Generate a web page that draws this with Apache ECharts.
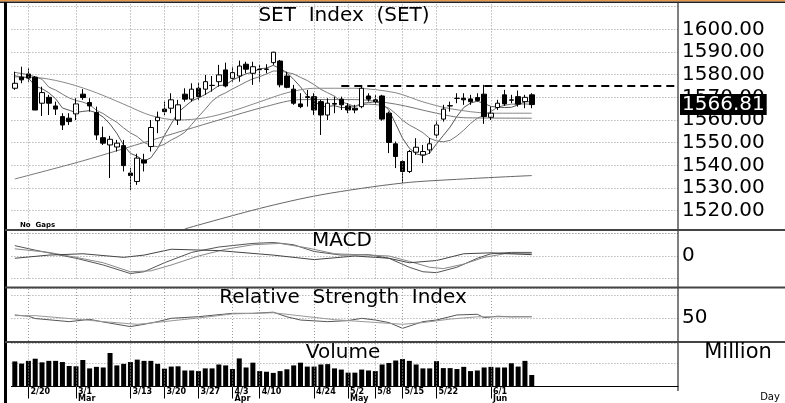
<!DOCTYPE html>
<html>
<head>
<meta charset="utf-8">
<script src="https://cdn.jsdelivr.net/npm/echarts@6/dist/echarts.min.js"></script>
<style>
  html, body { margin: 0; padding: 0; background: #fff; }
  #chart { width: 785px; height: 403px; }
</style>
</head>
<body>
<div id="chart"></div>
<script>
// trading days shown (Feb 16 - Jun 9)
const dates = [
  '2/16','2/17','2/20','2/21','2/22','2/23','2/24','2/27','2/28',
  '3/1','3/2','3/3','3/6','3/7','3/8','3/9','3/10','3/13','3/14','3/15','3/16','3/17',
  '3/20','3/21','3/22','3/23','3/24','3/27','3/28','3/29','3/30','3/31',
  '4/3','4/4','4/5','4/7','4/10','4/11','4/12','4/17','4/18','4/19','4/20','4/21',
  '4/24','4/25','4/26','4/27','4/28',
  '5/2','5/3','5/4','5/5','5/8','5/9','5/11','5/12','5/15','5/16','5/17','5/18','5/19',
  '5/22','5/23','5/24','5/25','5/26','5/29','5/30','5/31',
  '6/1','6/2','6/5','6/6','6/7','6/8','6/9'
];
const tickLabels = {
  '2/16': '\nFeb', '2/20': '2/20', '3/1': '3/1\nMar', '3/13': '3/13', '3/20': '3/20',
  '3/27': '3/27', '4/3': '4/3\nApr', '4/10': '4/10', '4/24': '4/24', '5/2': '5/2\nMay',
  '5/8': '5/8', '5/15': '5/15', '5/22': '5/22', '6/1': '6/1\nJun'
};
const gridDates = ['2/20','3/1','3/13','3/20','3/27','4/3','4/10','4/24','5/2','5/8','5/15','5/22','6/1'];

const opens = [1574.0,1578.9,1580.3,1578.9,1567.4,1570.0,1566.2,1561.5,1560.8,1562.7,
  1571.4,1567.7,1563.3,1552.2,1549.0,1548.1,1548.7,1536.6,1532.9,1542.4,
  1548.3,1559.7,1564.8,1565.2,1560.0,1571.4,1569.2,1574.0,1573.6,1575.2,
  1576.9,1582.1,1578.4,1579.4,1584.6,1580.6,1582.4,1582.3,1585.3,1586.0,
  1579.4,1573.6,1567.1,1569.9,1570.3,1568.1,1562.2,1567.3,1569.2,1566.2,
  1565.2,1565.9,1570.6,1568.9,1570.6,1563.0,1549.5,1541.7,1537.3,1545.8,
  1544.6,1546.8,1553.4,1560.4,1566.3,1569.5,1569.6,1569.3,1569.9,1571.4,
  1561.2,1565.5,1571.1,1568.7,1570.3,1568.1,1571.1];
const closes = [1576.2,1577.7,1578.5,1564.4,1572.1,1567.4,1564.8,1557.8,1559.3,1567.1,
  1569.9,1566.2,1553.4,1549.8,1551.5,1549.8,1539.9,1535.5,1543.2,1541.0,
  1556.7,1561.2,1563.7,1568.9,1566.7,1569.2,1573.6,1570.3,1576.9,1575.3,
  1579.9,1575.0,1580.9,1583.8,1582.4,1583.5,1582.2,1582.5,1589.9,1575.5,
  1574.4,1567.4,1565.9,1570.3,1564.4,1562.2,1567.4,1567.0,1566.7,1564.4,
  1564.4,1574.0,1569.2,1568.1,1560.4,1550.1,1543.9,1537.3,1546.1,1548.0,
  1546.1,1549.5,1557.8,1564.8,1566.2,1569.6,1568.9,1568.1,1568.6,1561.5,
  1563.0,1567.4,1567.1,1568.9,1567.0,1570.0,1566.81];
const highs = [1581.3,1583.5,1582.8,1579.4,1574.7,1571.1,1568.1,1563.0,1563.0,1569.6,
  1573.6,1569.6,1565.9,1557.1,1553.0,1551.2,1551.2,1538.8,1545.1,1545.1,
  1560.0,1563.7,1568.1,1571.8,1568.9,1574.0,1576.2,1576.5,1579.9,1579.4,
  1584.3,1585.3,1583.5,1586.2,1585.7,1585.7,1584.3,1584.6,1590.1,1586.5,
  1581.3,1575.5,1571.8,1573.3,1571.8,1568.9,1569.6,1570.3,1570.3,1567.4,
  1566.7,1574.7,1571.8,1571.1,1571.1,1563.7,1550.5,1542.4,1546.8,1552.0,
  1549.0,1552.0,1559.7,1566.7,1568.1,1571.8,1571.8,1571.1,1571.8,1575.5,
  1565.9,1568.9,1573.3,1571.1,1573.0,1571.1,1571.8];
const lows = [1573.3,1576.2,1576.9,1564.4,1561.8,1562.2,1562.2,1555.6,1557.8,1560.0,
  1568.9,1563.7,1551.2,1549.0,1534.4,1546.1,1537.3,1529.2,1531.4,1537.3,
  1546.1,1554.2,1562.2,1563.0,1557.8,1568.1,1568.1,1568.9,1571.1,1572.5,
  1574.7,1574.4,1576.9,1576.9,1580.6,1575.5,1576.9,1580.6,1584.3,1574.4,
  1574.0,1566.7,1565.2,1565.9,1562.2,1553.4,1560.0,1563.0,1564.4,1563.0,
  1563.0,1565.2,1568.1,1566.7,1559.7,1545.4,1538.8,1532.2,1536.6,1544.6,
  1541.0,1545.1,1552.0,1559.3,1563.7,1567.4,1566.7,1566.7,1568.1,1558.3,
  1560.0,1564.4,1566.2,1567.4,1565.9,1565.2,1565.2];

const ma5 = [1579.5,1579.0,1578.5,1575.0,1573.8,1572.0,1569.4,1565.3,1564.3,1563.3,
  1563.8,1564.1,1563.2,1561.3,1558.2,1554.1,1548.9,1545.3,1544.0,1541.9,
  1543.3,1547.5,1553.2,1558.3,1563.4,1565.9,1568.4,1569.7,1571.3,1573.1,
  1575.2,1575.5,1577.6,1579.0,1580.4,1581.1,1582.6,1582.9,1584.1,1582.7,
  1580.9,1577.9,1574.6,1570.7,1568.5,1566.0,1566.0,1566.3,1565.5,1565.5,
  1566.0,1567.3,1567.7,1568.0,1567.2,1564.4,1558.3,1552.0,1547.6,1545.1,
  1544.3,1545.4,1549.5,1553.2,1556.9,1561.6,1565.5,1567.5,1568.3,1567.3,
  1566.0,1565.7,1565.5,1565.6,1566.7,1568.1,1568.0];
const ma10 = [1581.0,1580.5,1580.0,1579.0,1578.0,1574.5,1573.2,1571.4,1569.7,1568.6,
  1567.9,1566.8,1564.3,1562.8,1560.8,1559.0,1556.5,1554.3,1552.7,1550.1,
  1548.7,1548.2,1549.3,1551.2,1552.7,1554.6,1558.0,1561.5,1564.8,1568.3,
  1570.6,1572.0,1573.7,1575.2,1576.8,1578.2,1579.1,1580.3,1581.6,1581.6,
  1581.0,1580.3,1578.8,1577.4,1575.6,1573.5,1572.0,1570.5,1568.1,1567.0,
  1566.0,1566.7,1567.0,1566.8,1566.4,1565.2,1562.8,1559.9,1557.8,1556.2,
  1554.4,1551.9,1550.8,1550.4,1551.0,1553.0,1555.5,1558.5,1560.8,1562.1,
  1563.8,1565.6,1566.5,1567.0,1567.0,1567.1,1566.9];
// slower averages read at a few points [day index, value]
const ma25 = [[0,1579],[4,1578.5],[8,1576],[12,1572],[16,1567],[20,1562],[24,1560],[28,1561],
  [32,1564],[36,1568],[40,1572],[44,1574],[50,1574],[56,1572],[60,1568],[64,1565],[70,1563],[76,1563]];
const ma75 = [[0,1534],[10,1542],[20,1551],[30,1560],[37,1566],[42,1569],[50,1569],[56,1567],
  [62,1563],[66,1561],[76,1560.8]];
const ma200 = [[25,1512],[36,1521],[45,1527],[57,1532.2],[66,1534],[76,1535.5]];

const macd = [[0,2.3],[3,1.3],[9,-0.5],[13,-2.0],[17,-3.9],[19,-3.5],[22,-1.5],[26,0.8],[30,2.0],
  [35,2.8],[38,3.0],[41,2.5],[44,1.0],[48,0.2],[52,0.3],[55,-0.5],[58,-2.5],[60,-3.5],[62,-3.7],
  [65,-2.5],[68,-0.5],[70,0.5],[73,0.8],[76,0.8]];
const macdSignal = [[0,1.6],[5,0.8],[9,-0.3],[13,-1.5],[17,-3.5],[20,-3.3],[23,-2.0],[27,0],
  [31,1.5],[35,2.5],[39,2.8],[43,1.8],[47,0.5],[52,0.2],[55,0],[58,-1.2],[61,-2.5],[63,-2.8],
  [66,-1.8],[69,-0.3],[72,0.5],[76,0.5]];
const macdDiff = [[0,-0.5],[5,0.2],[10,0.5],[16,-0.3],[19,0.2],[23,1.5],[30,1.2],[38,0.2],
  [44,-0.8],[50,0],[55,-0.5],[58,-1.5],[62,-1],[66,0.5],[70,0.7],[76,0.3]];

const rsi = [[0,52.6],[2,51.5],[3,49.5],[8,46.8],[11,48.8],[13,46.5],[17,42.5],[19,44.5],[21,46.8],
  [23,49.7],[27,51.1],[32,54],[35,54],[38,55],[40,51],[42,48.2],[46,46.8],[49,47.7],[51,49.7],
  [53,48.2],[55,46],[57,41],[60,46.8],[62,48.2],[65,52.6],[68,53.2],[69,50.3],[71,51.5],[73,51],[76,51.1]];
const rsiAvg = [[0,52],[3,52],[10,48.5],[13,46.8],[18,44.5],[19,45],[27,50],[32,53.5],[38,54.5],
  [47,48.5],[57,44.5],[60,46],[64,49],[68,51],[76,51.1]];

// volume, million shares
const volume = [10660,9740,10900,11820,10280,10900,10900,10400,8740,8590,
  11280,7700,8350,8090,14250,8970,9630,10400,11430,10900,
  10900,9630,7580,8470,8590,6810,6810,6550,7700,7700,
  9360,8970,7430,11940,8090,10130,6550,6280,5780,6550,
  7320,8970,10130,8470,8470,9360,9510,7700,7200,5890,
  5890,7200,6810,6550,9360,10010,11050,11670,10900,9360,
  7700,7700,10780,7820,7820,7430,8350,6550,6810,8090,
  8350,8090,8090,9890,8470,10900,4890];

const lastPrice = 1566.81;
const resistance = 1575;

const N = 98;
const cats = dates.concat(Array.from({length: N - dates.length}, (_, k) => 'pad' + k));
const candles = dates.map((d, i) => [opens[i], closes[i], lows[i], highs[i]]);

const FONT = 'DejaVu Sans';
const dotted = {color: '#9a9a9a', type: [1, 2], width: 1};
const vLines = gridDates.map(d => ({xAxis: d}));
const vMark = extra => ({
  silent: true, symbol: ['none', 'none'], animation: false,
  label: {show: false}, lineStyle: dotted,
  data: vLines.concat(extra || [])
});

const grids = [
  {left: 11.4, width: 666.6, top: 2.09, height: 231.3},
  {left: 11.4, width: 666.6, top: 233.5, height: 45},
  {left: 11.4, width: 666.6, top: 288, height: 53},
  {left: 11.4, width: 666.6, top: 343, height: 48}
];

const xAxes = grids.map((g, k) => ({
  type: 'category', gridIndex: k, data: cats, boundaryGap: true,
  axisLine: {show: k === 3, lineStyle: {color: '#000'}},
  axisTick: {show: k === 3, alignWithLabel: true, length: 12,
    interval: (i, v) => gridDates.includes(v), lineStyle: {color: '#000'}},
  axisLabel: {show: k === 3, interval: (i, v) => v in tickLabels,
    formatter: v => tickLabels[v] || '', align: 'left', margin: 2,
    fontSize: 8, lineHeight: 7, fontWeight: 'bold', fontFamily: FONT, color: '#000', padding: [0, 0, 0, 2]},
  splitLine: {show: false}
}));

const labelStyle = {fontSize: 20, fontFamily: FONT, color: '#000', margin: 4};
const yAxes = [
  {gridIndex: 0, position: 'right', min: 1510, max: 1612, interval: 10,
    axisLine: {show: false}, axisTick: {show: false},
    axisLabel: Object.assign({formatter: v => (v >= 1520 && v <= 1600 ? v.toFixed(2) : '')}, labelStyle),
    splitLine: {lineStyle: dotted}},
  {gridIndex: 1, position: 'right', min: -5, max: 5, interval: 5,
    axisLine: {show: false}, axisTick: {show: false},
    axisLabel: Object.assign({formatter: v => (v === 0 ? '0' : '')}, labelStyle),
    splitLine: {lineStyle: dotted}},
  {gridIndex: 2, position: 'right', min: 30, max: 76, interval: 20,
    axisLine: {show: false}, axisTick: {show: false},
    axisLabel: Object.assign({formatter: v => (v === 50 ? '50' : '')}, labelStyle),
    splitLine: {lineStyle: dotted}},
  {gridIndex: 3, position: 'right', min: 0, max: 18500, interval: 10000,
    axisLine: {show: false}, axisTick: {show: false}, axisLabel: {show: false},
    splitLine: {lineStyle: dotted}}
];

const line = (data, k, color, extra) => Object.assign({
  type: 'line', data, xAxisIndex: k, yAxisIndex: k, symbol: 'none',
  lineStyle: {color, width: 1}, silent: true, animation: false, z: 3
}, extra || {});

const title = (text, x, y, size) => ({
  type: 'text', x, y, z: 100,
  style: {text, font: size + 'px "DejaVu Sans"', fill: '#000',
    align: 'center', verticalAlign: 'middle', textAlign: 'center', textVerticalAlign: 'middle'}
});

const option = {
  animation: false,
  backgroundColor: '#fff',
  grid: grids,
  xAxis: xAxes,
  yAxis: yAxes,
  series: [
    {
      type: 'candlestick', data: candles, xAxisIndex: 0, yAxisIndex: 0, barWidth: 5, z: 4,
      itemStyle: {color: '#fff', color0: '#000', borderColor: '#000', borderColor0: '#000', borderWidth: 1},
      markLine: vMark([
        [{coord: [48, resistance], lineStyle: {color: '#000', type: [8, 5], width: 2}},
         {coord: [97, resistance]}]
      ])
    },
    line(ma5, 0, '#555'),
    line(ma10, 0, '#777'),
    line(ma25, 0, '#888', {smooth: 0.3}),
    line(ma75, 0, '#777', {smooth: 0.3}),
    line(ma200, 0, '#666', {smooth: 0.3}),
    line(macd, 1, '#555', {markLine: vMark()}),
    line(macdSignal, 1, '#888'),
    line(macdDiff, 1, '#444'),
    line(rsi, 2, '#555', {markLine: vMark()}),
    line(rsiAvg, 2, '#999'),
    {type: 'bar', data: volume, xAxisIndex: 3, yAxisIndex: 3, barWidth: 5,
      itemStyle: {color: '#000'}, silent: true, markLine: vMark()}
  ],
  graphic: [
    {type: 'rect', shape: {x: 0, y: 0, width: 785, height: 1.5}, style: {fill: '#e8964a'}, z: 100},
    {type: 'line', shape: {x1: 0, y1: 2.3, x2: 785, y2: 2.3}, style: {stroke: '#222', lineWidth: 1.5}, z: 100},
    {type: 'rect', shape: {x: 4, y: 2, width: 3, height: 401}, style: {fill: '#000'}, z: 100},
    {type: 'line', shape: {x1: 678, y1: 3, x2: 678, y2: 391}, style: {stroke: '#000', lineWidth: 1}, z: 100},
    {type: 'line', shape: {x1: 5, y1: 230, x2: 785, y2: 230}, style: {stroke: '#444', lineWidth: 2}, z: 100},
    {type: 'line', shape: {x1: 5, y1: 287.5, x2: 785, y2: 287.5}, style: {stroke: '#444', lineWidth: 2}, z: 100},
    {type: 'line', shape: {x1: 5, y1: 342, x2: 785, y2: 342}, style: {stroke: '#444', lineWidth: 2}, z: 100},
    title('SET  Index  (SET)', 344, 16, 20),
    title('MACD', 342, 241, 20),
    title('Relative  Strength  Index', 343, 298, 20),
    title('Volume', 343, 353, 20),
    title('Million', 738, 353, 21),
    title('Day', 770, 397, 10),
    {type: 'text', x: 20, y: 225, z: 100, style: {text: 'No  Gaps', font: 'bold 7px "DejaVu Sans"', fill: '#000',
      align: 'left', verticalAlign: 'middle', textAlign: 'left', textVerticalAlign: 'middle'}}
  ]
};

const chart = echarts.init(document.getElementById('chart'));
chart.setOption(option);

// last price box on the price axis, placed through the axis scale
const py = chart.convertToPixel({yAxisIndex: 0}, lastPrice);
option.graphic.push({
  type: 'text', x: 680, y: py, z: 101,
  style: {text: lastPrice.toFixed(2), font: '20px "DejaVu Sans"', fill: '#fff',
    backgroundColor: '#000', padding: [1, 2, 0, 2],
    align: 'left', verticalAlign: 'middle', textAlign: 'left', textVerticalAlign: 'middle'}
});
chart.setOption({graphic: option.graphic});
</script>
</body>
</html>
